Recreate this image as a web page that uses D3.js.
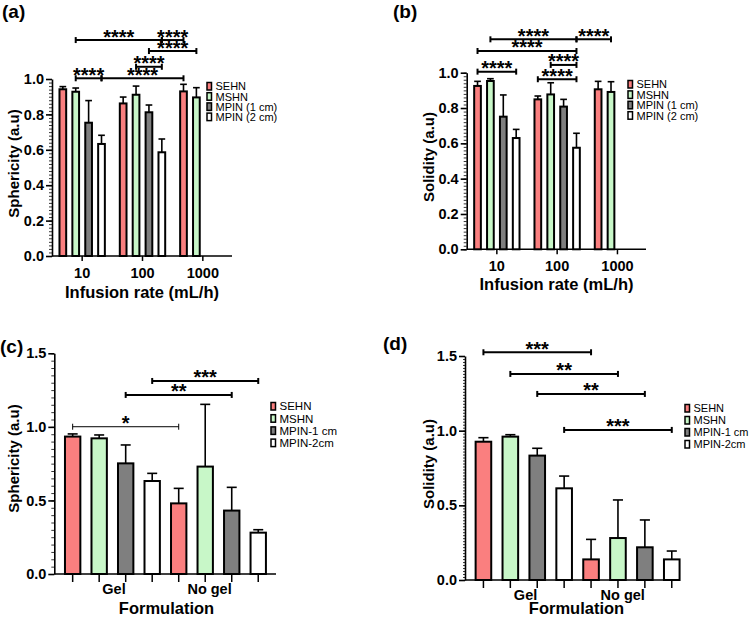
<!DOCTYPE html>
<html><head><meta charset="utf-8">
<script src="https://cdn.jsdelivr.net/npm/d3@7"></script>
<style>
body{margin:0;background:#fff}
text{font-family:"Liberation Sans",Arial,Helvetica,sans-serif}
</style>
</head><body>
<svg id="chart" width="750" height="618"></svg>
<script>
// ---------------- DATA ----------------
const seriesAB = ["SEHN", "MSHN", "MPIN (1 cm)", "MPIN (2 cm)"];
const seriesCD = ["SEHN", "MSHN", "MPIN-1 cm", "MPIN-2cm"];
const seriesColors = ["#fa7f7f", "#c8f7c8", "#7f7f7f", "#ffffff"];

const rateGroups = ["10", "100", "1000"];
const formGroups = ["Gel", "No gel"];

// (a) Sphericity vs infusion rate  [group][series]
const sphericityA    = [[0.942, 0.928, 0.753, 0.633], [0.862, 0.911, 0.812, 0.586], [0.930, 0.896, null, null]];
const sphericityAErr = [[0.015, 0.021, 0.125, 0.049], [0.036, 0.049, 0.041, 0.075], [0.040, 0.055, null, null]];
// (b) Solidity vs infusion rate
const solidityB      = [[0.925, 0.953, 0.751, 0.630], [0.849, 0.877, 0.808, 0.575], [0.906, 0.891, null, null]];
const solidityBErr   = [[0.026, 0.013, 0.123, 0.049], [0.019, 0.066, 0.041, 0.082], [0.045, 0.058, null, null]];
// (c) Sphericity vs formulation
const sphericityC    = [[0.934, 0.922, 0.752, 0.632], [0.480, 0.730, 0.431, 0.281]];
const sphericityCErr = [[0.018, 0.023, 0.125, 0.052], [0.102, 0.423, 0.158, 0.020]];
// (d) Solidity vs formulation
const solidityD      = [[0.926, 0.960, 0.833, 0.614], [0.138, 0.281, 0.219, 0.138]];
const solidityDErr   = [[0.027, 0.013, 0.049, 0.082], [0.134, 0.255, 0.183, 0.056]];

// significance brackets: from [group, series] to [group, series] at height (data units)
const bracketsA = [
  {from: [0, 1], to: [1, 3], at: 1.220, label: "****"},
  {from: [1, 3], to: [2, 0], at: 1.220, label: "****"},
  {from: [1, 2], to: [2, 1], at: 1.158, label: "****"},
  {from: [1, 1], to: [1, 3], at: 1.069, label: "****"},
  {from: [0, 1], to: [0, 3], at: 1.004, label: "****"},
  {from: [0, 3], to: [2, 0], at: 1.004, label: "****"}
];
const bracketsB = [
  {from: [0, 1], to: [1, 3], at: 1.189, label: "****"},
  {from: [1, 3], to: [2, 1], at: 1.189, label: "****"},
  {from: [0, 0], to: [1, 3], at: 1.123, label: "****"},
  {from: [1, 1], to: [1, 3], at: 1.044, label: "****"},
  {from: [0, 0], to: [0, 3], at: 1.006, label: "****"},
  {from: [1, 0], to: [1, 3], at: 0.963, label: "****"}
];
const bracketsC = [
  {from: [0, 0], to: [1, 0], at: 1.001, label: "*", thin: true},
  {from: [0, 2], to: [1, 2], at: 1.217, label: "**"},
  {from: [0, 3], to: [1, 3], at: 1.312, label: "***"}
];
const bracketsD = [
  {from: [0, 0], to: [1, 0], at: 1.525, label: "***"},
  {from: [0, 1], to: [1, 1], at: 1.380, label: "**"},
  {from: [0, 2], to: [1, 2], at: 1.246, label: "**"},
  {from: [0, 3], to: [1, 3], at: 1.005, label: "***"}
];

const yTicksAB = [0, 0.2, 0.4, 0.6, 0.8, 1.0];
const yTicksCD = [0, 0.5, 1.0, 1.5];

// ---------------- DRAW ----------------
const svg = d3.select("#chart");
svg.append("rect").attr("width", 750).attr("height", 618).attr("fill", "#fff");

function panel(cfg) {
  const g = svg.append("g");
  const y = d3.scaleLinear().domain([0, cfg.yMax]).range([cfg.yBottom, cfg.yTop]);
  let barLeft, bw;
  if (cfg.type === "grouped") {
    const gx = d3.scaleBand().domain(cfg.groups).range(cfg.xRange);
    const sx = d3.scaleBand().domain(d3.range(cfg.series.length)).range([0, gx.bandwidth()])
      .paddingInner(0.48).paddingOuter(0.58);
    barLeft = (gi, si) => gx(cfg.groups[gi]) + sx(si);
    bw = sx.bandwidth();
    const ax = g.append("g").attr("transform", `translate(0,${cfg.yBottom})`)
      .call(d3.axisBottom(gx).tickSize(5).tickSizeOuter(0).tickPadding(4));
    ax.select(".domain").remove();
    ax.selectAll("line").attr("stroke", "#000").attr("stroke-width", 1.5);
    ax.selectAll("text").attr("font-size", 14.5).attr("font-weight", "bold").attr("fill", "#000")
      .attr("dy", "0.9em");
  } else {
    const n = cfg.groups.length * cfg.series.length;
    const bx = d3.scaleBand().domain(d3.range(n)).range(cfg.xRange).paddingInner(0.42).paddingOuter(0.38);
    barLeft = (gi, si) => bx(gi * cfg.series.length + si);
    bw = bx.bandwidth();
    const ax = g.append("g").attr("transform", `translate(0,${cfg.yBottom})`)
      .call(d3.axisBottom(bx).tickSize(8).tickSizeOuter(0).tickFormat(""));
    ax.select(".domain").remove();
    ax.selectAll("line").attr("stroke", "#000").attr("stroke-width", 1.5);
    // group labels, right-aligned under the third bar of each group
    cfg.groups.forEach((name, gi) => {
      g.append("text").attr("x", barLeft(gi, 2) + bw / 2).attr("y", cfg.yBottom + 20)
        .attr("text-anchor", "end").attr("font-size", 14.5).attr("font-weight", "bold").text(name);
    });
  }
  const cx = (gi, si) => barLeft(gi, si) + bw / 2;

  // x-axis line
  g.append("line").attr("x1", cfg.axisX).attr("x2", cfg.axisEnd)
    .attr("y1", cfg.yBottom).attr("y2", cfg.yBottom).attr("stroke", "#000").attr("stroke-width", 1.6);

  // y axis: minor ticks
  const minor = g.append("g").attr("transform", `translate(${cfg.axisX},0)`)
    .call(d3.axisLeft(y).tickValues(d3.range(0, cfg.yMax + 1e-9, cfg.minorStep)).tickSize(cfg.minorLen).tickFormat(""));
  minor.select(".domain").remove();
  minor.selectAll("line").attr("stroke", "#000").attr("stroke-width", 0.8);
  // y axis: major ticks
  const ay = g.append("g").attr("transform", `translate(${cfg.axisX},0)`)
    .call(d3.axisLeft(y).tickValues(cfg.yTicks).tickFormat(d3.format(".1f")).tickSize(6).tickSizeOuter(0).tickPadding(2));
  ay.select(".domain").attr("stroke", "#000").attr("stroke-width", 1.6);
  ay.selectAll("line").attr("stroke", "#000").attr("stroke-width", 1.6);
  ay.selectAll("text").attr("font-size", 14.5).attr("font-weight", "bold").attr("fill", "#000");

  // bars + error bars
  cfg.values.forEach((row, gi) => row.forEach((v, si) => {
    if (v === null) return;
    const e = cfg.errors[gi][si];
    const x0 = barLeft(gi, si), xc = cx(gi, si);
    const capW = bw * cfg.capFrac;
    g.append("line").attr("x1", xc).attr("x2", xc).attr("y1", y(v)).attr("y2", y(v + e))
      .attr("stroke", "#000").attr("stroke-width", 1.6);
    g.append("line").attr("x1", xc - capW / 2).attr("x2", xc + capW / 2).attr("y1", y(v + e)).attr("y2", y(v + e))
      .attr("stroke", "#000").attr("stroke-width", 1.6);
    g.append("rect").attr("x", x0).attr("y", y(v)).attr("width", bw).attr("height", y(0) - y(v))
      .attr("fill", cfg.colors[si]).attr("stroke", "#000").attr("stroke-width", 2);
  }));

  // significance brackets
  cfg.brackets.forEach(b => {
    const x1 = cx(b.from[0], b.from[1]), x2 = cx(b.to[0], b.to[1]), yy = y(b.at);
    const sw = b.thin ? 1 : 2;
    g.append("line").attr("x1", x1).attr("x2", x2).attr("y1", yy).attr("y2", yy).attr("stroke", "#000").attr("stroke-width", sw);
    [x1, x2].forEach(xx => g.append("line").attr("x1", xx).attr("x2", xx).attr("y1", yy - 3).attr("y2", yy + 3)
      .attr("stroke", "#000").attr("stroke-width", sw));
    g.append("text").attr("x", (x1 + x2) / 2).attr("y", yy + 3.5).attr("text-anchor", "middle")
      .attr("font-size", 20).attr("font-weight", "bold").text(b.label);
  });

  // legend
  cfg.series.forEach((name, si) => {
    const ly = cfg.legend.y + si * cfg.legend.dy;
    g.append("rect").attr("x", cfg.legend.x).attr("y", ly - 4).attr("width", 4.5).attr("height", 7.5)
      .attr("fill", cfg.colors[si]).attr("stroke", "#000").attr("stroke-width", 1.5);
    g.append("text").attr("x", cfg.legend.x + 8.5).attr("y", ly + 3.8).attr("font-size", cfg.legend.fs).text(name);
  });

  // axis titles and panel label
  g.append("text").attr("transform", `translate(${cfg.yTitle.x},${cfg.yTitle.y}) rotate(-90)`)
    .attr("text-anchor", "middle").attr("font-size", 15).attr("font-weight", "bold").text(cfg.yTitle.text);
  g.append("text").attr("x", cfg.xTitle.x).attr("y", cfg.xTitle.y).attr("text-anchor", "middle")
    .attr("font-size", 16.5).attr("font-weight", "bold").text(cfg.xTitle.text);
  g.append("text").attr("x", cfg.tag.x).attr("y", cfg.tag.y).attr("font-size", 19).attr("font-weight", "bold").text(cfg.tag.text);
}

panel({type: "grouped", groups: rateGroups, series: seriesAB, colors: seriesColors,
  values: sphericityA, errors: sphericityAErr, brackets: bracketsA,
  yMax: 1.0, yBottom: 256, yTop: 79, yTicks: yTicksAB, minorStep: 0.02, minorLen: 3,
  xRange: [52, 233], axisX: 52, axisEnd: 232, capFrac: 1.0,
  legend: {x: 207, y: 86.5, dy: 10.2, fs: 11},
  yTitle: {x: 19, y: 163.5, text: "Sphericity (a.u)"},
  xTitle: {x: 142, y: 298, text: "Infusion rate (mL/h)"},
  tag: {x: 2, y: 18, text: "(a)"}});

panel({type: "grouped", groups: rateGroups, series: seriesAB, colors: seriesColors,
  values: solidityB, errors: solidityBErr, brackets: bracketsB,
  yMax: 1.0, yBottom: 249.3, yTop: 72.7, yTicks: yTicksAB, minorStep: 0.02, minorLen: 3,
  xRange: [466.7, 647.6], axisX: 466.7, axisEnd: 646, capFrac: 1.0,
  legend: {x: 628, y: 84.5, dy: 10.4, fs: 11},
  yTitle: {x: 434, y: 157, text: "Solidity (a.u)"},
  xTitle: {x: 556.5, y: 290, text: "Infusion rate (mL/h)"},
  tag: {x: 393, y: 18, text: "(b)"}});

panel({type: "flat", groups: formGroups, series: seriesCD, colors: seriesColors,
  values: sphericityC, errors: sphericityCErr, brackets: bracketsC,
  yMax: 1.5, yBottom: 574, yTop: 353.3, yTicks: yTicksCD, minorStep: 0.05, minorLen: 3,
  xRange: [54.9, 276], axisX: 54.3, axisEnd: 276, capFrac: 0.65,
  legend: {x: 271, y: 406.5, dy: 12.2, fs: 11.5},
  yTitle: {x: 19, y: 458.5, text: "Sphericity (a.u)"},
  xTitle: {x: 166.5, y: 614, text: "Formulation"},
  tag: {x: 0, y: 353, text: "(c)"}});

panel({type: "flat", groups: formGroups, series: seriesCD, colors: seriesColors,
  values: solidityD, errors: solidityDErr, brackets: bracketsD,
  yMax: 1.5, yBottom: 580, yTop: 356, yTicks: yTicksCD, minorStep: 0.02, minorLen: 2,
  xRange: [465.4, 689.8], axisX: 465, axisEnd: 680, capFrac: 0.65,
  legend: {x: 685, y: 408.5, dy: 12, fs: 11},
  yTitle: {x: 434, y: 464, text: "Solidity (a.u)"},
  xTitle: {x: 576.5, y: 614, text: "Formulation"},
  tag: {x: 383, y: 350, text: "(d)"}});
</script>
</body></html>
